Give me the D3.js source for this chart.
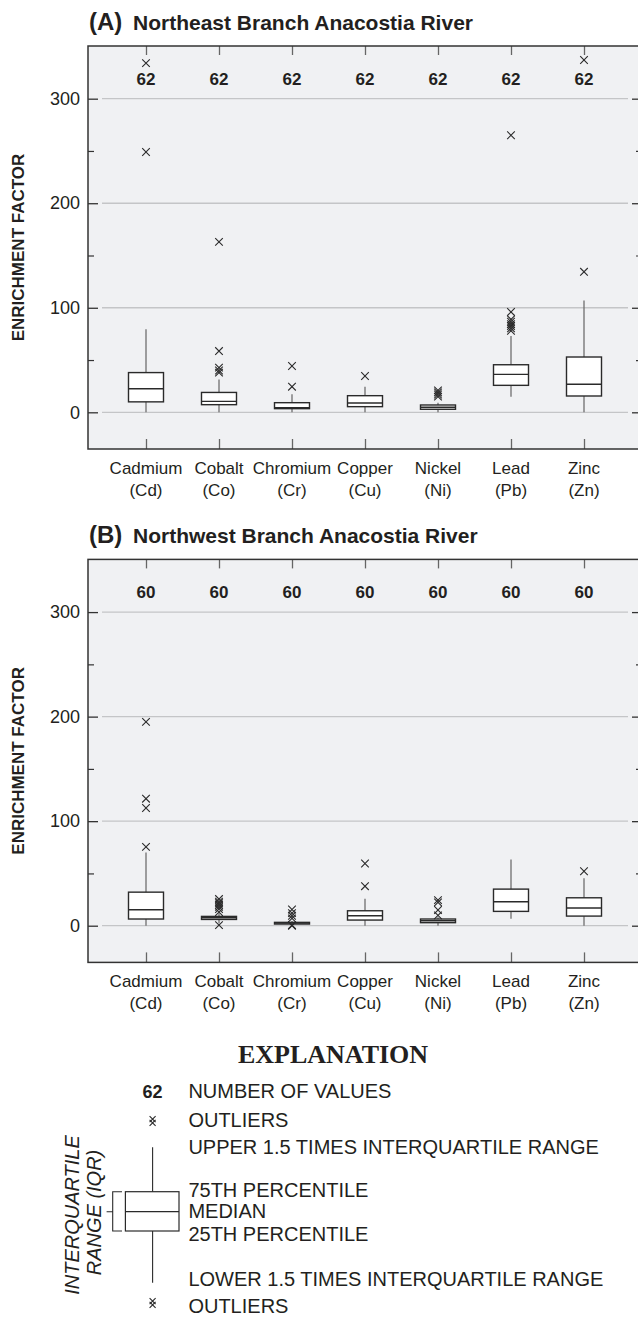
<!DOCTYPE html>
<html>
<head>
<meta charset="utf-8">
<script src="https://cdn.jsdelivr.net/npm/d3@7"></script>
<style>
  html, body { margin: 0; padding: 0; background: #fff; }
  svg { display: block; }
  text { font-family: "Liberation Sans", Arial, Helvetica, sans-serif; fill: #231f20; }
</style>
</head>
<body>
<svg id="chart" width="638" height="1319"></svg>
<script>
// ---------------- DATA ----------------
const categories = ["Cadmium", "Cobalt", "Chromium", "Copper", "Nickel", "Lead", "Zinc"];
const symbols = ["(Cd)", "(Co)", "(Cr)", "(Cu)", "(Ni)", "(Pb)", "(Zn)"];
const yTicks = [0, 100, 200, 300];
const yMinorTicks = [50, 150, 250];

// Panel A: Northeast Branch
const countsA = [62, 62, 62, 62, 62, 62, 62];
// [lower whisker, 25th, median, 75th, upper whisker]
const boxesA = [
  [0, 10, 22.5, 38, 79.5],
  [0, 7.3, 10.5, 19, 31.5],
  [0, 3.5, 4.5, 9.2, 17.2],
  [0, 5.4, 8.9, 15.9, 24.5],
  [0, 2.9, 4.8, 7, 9.2],
  [15, 25.8, 36.3, 45.5, 72.9],
  [0, 15.6, 26.8, 52.9, 107]
];
const outliersA = [
  [249, 334],
  [38, 40, 42.7, 58.6, 163],
  [24.5, 44.3],
  [34.7],
  [15, 17, 19, 21],
  [78, 80.3, 82.5, 84.4, 86.6, 88.9, 96, 265],
  [134.4, 337]
];

// Panel B: Northwest Branch
const countsB = [60, 60, 60, 60, 60, 60, 60];
const boxesB = [
  [0, 6.4, 15.3, 32.1, 70],
  [2.2, 6, 7.6, 8.9, 11.8],
  [0.8, 1.6, 2.5, 3.2, 4.5],
  [0, 5.4, 9.5, 14.3, 25.8],
  [0, 2.9, 4.8, 6.4, 8],
  [6.7, 13.7, 22.9, 35, 63.3],
  [0, 9.2, 16.9, 26.7, 45.5]
];
const outliersB = [
  [75.4, 112.6, 121.5, 195],
  [0.6, 13, 16, 18, 20, 21.5, 23, 25.5],
  [0, 0.5, 7, 9.5, 12, 15.5],
  [37.8, 59.5],
  [9.9, 15, 22.3, 24.5],
  [],
  [52.1]
];

const legendLabels = [
  "NUMBER OF VALUES", "OUTLIERS", "UPPER 1.5 TIMES INTERQUARTILE RANGE",
  "75TH PERCENTILE", "MEDIAN", "25TH PERCENTILE",
  "LOWER 1.5 TIMES INTERQUARTILE RANGE", "OUTLIERS"
];

// ---------------- LAYOUT ----------------
const svg = d3.select("#chart");
const plotLeft = 88, plotRight = 642, plotHeight = 403;
const textColor = "#231f20";

const x = d3.scalePoint().domain(categories).range([plotLeft, plotRight]).padding(0.7945);

const panels = [
  { top: 46, letter: "(A)", title: "Northeast Branch Anacostia River", counts: countsA, boxes: boxesA, outliers: outliersA },
  { top: 559.4, letter: "(B)", title: "Northwest Branch Anacostia River", counts: countsB, boxes: boxesB, outliers: outliersB }
];

function xMark(sel, cx, cy, r) {
  sel.append("path")
    .attr("d", `M${cx - r},${cy - r}L${cx + r},${cy + r}M${cx - r},${cy + r}L${cx + r},${cy - r}`)
    .attr("stroke", "#2a2a2a").attr("stroke-width", 1.1).attr("fill", "none");
}

panels.forEach(p => {
  const top = p.top, bottom = top + plotHeight;
  const y = d3.scaleLinear().domain([-35.1, 350.4]).range([bottom, top]);
  const g = svg.append("g");

  // title
  g.append("text").attr("x", 89).attr("y", top - 16)
    .attr("font-size", 24).attr("font-weight", "bold").text(p.letter);
  g.append("text").attr("x", 133).attr("y", top - 16)
    .attr("font-size", 21).attr("font-weight", "bold").text(p.title);

  // y axis title
  g.append("text")
    .attr("transform", `translate(24,${(top + bottom) / 2}) rotate(-90)`)
    .attr("text-anchor", "middle").attr("font-size", 17).attr("font-weight", "bold")
    .text("ENRICHMENT FACTOR");

  // plot background
  g.append("rect").attr("x", plotLeft).attr("y", top)
    .attr("width", plotRight - plotLeft).attr("height", plotHeight)
    .attr("fill", "#f0f1f3");

  // gridlines
  g.selectAll(".grid").data(yTicks).enter().append("line")
    .attr("x1", plotLeft + 14).attr("x2", plotRight - 14)
    .attr("y1", d => y(d)).attr("y2", d => y(d))
    .attr("stroke", "#c4c5c7").attr("stroke-width", 1.3);

  // left axis (ticks inside)
  const left = g.append("g").attr("transform", `translate(${plotLeft},0)`)
    .call(d3.axisLeft(y).tickValues(yTicks).tickSize(-10).tickPadding(8));
  left.select(".domain").remove();
  left.selectAll("line").attr("stroke", "#333").attr("stroke-width", 1.3);
  left.selectAll("text").attr("font-size", 18).attr("fill", textColor)
    .attr("font-family", '"Liberation Sans", Arial, sans-serif');

  const leftMinor = g.append("g").attr("transform", `translate(${plotLeft},0)`)
    .call(d3.axisLeft(y).tickValues(yMinorTicks).tickSize(-6).tickFormat(""));
  leftMinor.select(".domain").remove();
  leftMinor.selectAll("line").attr("stroke", "#333").attr("stroke-width", 1.2);

  // right axis (ticks inside)
  const right = g.append("g").attr("transform", `translate(${plotRight},0)`)
    .call(d3.axisRight(y).tickValues(yTicks).tickSize(-10).tickFormat(""));
  right.select(".domain").remove();
  right.selectAll("line").attr("stroke", "#333").attr("stroke-width", 1.3);
  const rightMinor = g.append("g").attr("transform", `translate(${plotRight},0)`)
    .call(d3.axisRight(y).tickValues(yMinorTicks).tickSize(-6).tickFormat(""));
  rightMinor.select(".domain").remove();
  rightMinor.selectAll("line").attr("stroke", "#333").attr("stroke-width", 1.2);

  // top & bottom category ticks (inside)
  const topAx = g.append("g").attr("transform", `translate(0,${top})`)
    .call(d3.axisTop(x).tickSize(-9).tickFormat(""));
  topAx.select(".domain").remove();
  topAx.selectAll("line").attr("stroke", "#666").attr("stroke-width", 1.3);
  const botAx = g.append("g").attr("transform", `translate(0,${bottom})`)
    .call(d3.axisBottom(x).tickSize(-10).tickFormat(""));
  botAx.select(".domain").remove();
  botAx.selectAll("line").attr("stroke", "#666").attr("stroke-width", 1.3);

  // frame
  g.append("rect").attr("x", plotLeft).attr("y", top)
    .attr("width", plotRight - plotLeft).attr("height", plotHeight)
    .attr("fill", "none").attr("stroke", "#333").attr("stroke-width", 1.5);

  // category labels
  categories.forEach((c, i) => {
    g.append("text").attr("x", x(c)).attr("y", bottom + 25)
      .attr("text-anchor", "middle").attr("font-size", 17).text(c);
    g.append("text").attr("x", x(c)).attr("y", bottom + 47)
      .attr("text-anchor", "middle").attr("font-size", 17).text(symbols[i]);
  });

  // counts
  categories.forEach((c, i) => {
    g.append("text").attr("x", x(c)).attr("y", top + 39)
      .attr("text-anchor", "middle").attr("font-size", 17).attr("font-weight", "bold")
      .text(p.counts[i]);
  });

  // boxes
  const bw = 35;
  categories.forEach((c, i) => {
    const b = p.boxes[i];
    const cx = x(c);
    g.append("line").attr("x1", cx).attr("x2", cx)
      .attr("y1", y(b[0])).attr("y2", y(b[4]))
      .attr("stroke", "#6f6f6f").attr("stroke-width", 1.3);
    g.append("rect").attr("x", cx - bw / 2).attr("y", y(b[3]))
      .attr("width", bw).attr("height", Math.max(0.5, y(b[1]) - y(b[3])))
      .attr("fill", "#fff").attr("stroke", "#2a2a2a").attr("stroke-width", 1.4);
    g.append("line").attr("x1", cx - bw / 2).attr("x2", cx + bw / 2)
      .attr("y1", y(b[2])).attr("y2", y(b[2]))
      .attr("stroke", "#2a2a2a").attr("stroke-width", 1.4);
    p.outliers[i].forEach(v => xMark(g, cx, y(v), 3.8));
  });
});

// ---------------- LEGEND ----------------
const lg = svg.append("g");
lg.append("text").attr("x", 333).attr("y", 1063)
  .attr("text-anchor", "middle").attr("font-size", 26).attr("font-weight", "bold")
  .style("font-family", '"Liberation Serif", "Times New Roman", serif')
  .text("EXPLANATION");

const lx = 152.6, tx = 188.4;
const labelY = [1098.3, 1126.7, 1154, 1196.7, 1218.3, 1240.5, 1285.5, 1313.3];
legendLabels.forEach((t, i) => {
  lg.append("text").attr("x", tx).attr("y", labelY[i]).attr("font-size", 20).text(t);
});
lg.append("text").attr("x", lx).attr("y", 1098.3).attr("text-anchor", "middle")
  .attr("font-size", 18).attr("font-weight", "bold").text(countsA[0]);

// outlier symbols (stacked marks)
[1121, 1303].forEach(cy => {
  xMark(lg, lx, cy - 1.8, 3);
  xMark(lg, lx, cy + 1.8, 3);
});

// whisker & box
lg.append("line").attr("x1", lx).attr("x2", lx).attr("y1", 1147.3).attr("y2", 1282.7)
  .attr("stroke", "#2a2a2a").attr("stroke-width", 1.1);
lg.append("rect").attr("x", 125.4).attr("y", 1191.7).attr("width", 53.6).attr("height", 39.3)
  .attr("fill", "#fff").attr("stroke", "#2a2a2a").attr("stroke-width", 1.2);
lg.append("line").attr("x1", 125.4).attr("x2", 179).attr("y1", 1211.7).attr("y2", 1211.7)
  .attr("stroke", "#2a2a2a").attr("stroke-width", 1.2);

// IQR bracket
lg.append("path")
  .attr("d", "M122,1191.7H112.7V1231H122M112.7,1211.7H106.6")
  .attr("fill", "none").attr("stroke", "#2a2a2a").attr("stroke-width", 1.1);
lg.append("text").attr("transform", "translate(79,1215) rotate(-90)")
  .attr("text-anchor", "middle").attr("font-size", 20).attr("font-style", "italic")
  .text("INTERQUARTILE");
lg.append("text").attr("transform", "translate(101,1212.5) rotate(-90)")
  .attr("text-anchor", "middle").attr("font-size", 20).attr("font-style", "italic")
  .text("RANGE (IQR)");
</script>
</body>
</html>
